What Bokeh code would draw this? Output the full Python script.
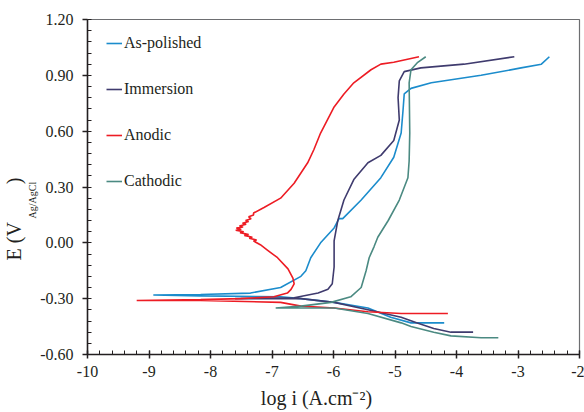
import numpy as np
from bokeh.plotting import figure
from bokeh.models import FixedTicker, Title
from bokeh.embed import file_html
from bokeh.resources import INLINE

# ---------------- data ----------------
x_ticks = [-10, -9, -8, -7, -6, -5, -4, -3, -2]
x_tick_labels = ["-10", "-9", "-8", "-7", "-6", "-5", "-4", "-3", "-2"]
y_ticks = [-0.6, -0.3, 0.0, 0.3, 0.6, 0.9, 1.2]
y_tick_labels = ["-0.60", "-0.30", "0.00", "0.30", "0.60", "0.90", "1.20"]

x_title = "log i (A.cm\u207b\u00b2)"
y_title_main = "E (V"
y_title_sub = "Ag/AgCl"
y_title_close = ")"

series_names = ["As-polished", "Immersion", "Anodic", "Cathodic"]
series_colors = ["#1b8ccc", "#3f3b6e", "#ed1c24", "#4b8a82"]

# As-polished: cathodic end -> Ecorr -> anodic end
aspol_logi = [-4.20, -4.50, -4.74, -5.07, -5.44, -5.99, -6.53, -6.86, -8.16, -8.93,
              -8.16, -7.35, -6.86, -6.53, -6.45, -6.37, -6.21, -5.99, -5.91, -5.85,
              -5.55, -5.23, -5.02, -4.90, -4.87, -4.85, -4.74, -4.41, -3.60, -2.95,
              -2.62, -2.49]
aspol_E = [-0.43, -0.43, -0.43, -0.40, -0.35, -0.32, -0.30, -0.29, -0.285, -0.28,
           -0.278, -0.27, -0.24, -0.18, -0.15, -0.08, 0.00, 0.08, 0.13, 0.13,
           0.23, 0.35, 0.46, 0.59, 0.71, 0.80, 0.83, 0.86, 0.90, 0.94,
           0.96, 1.00]

# Immersion
imm_logi = [-3.73, -4.09, -4.37, -4.65, -4.90, -5.44, -5.99, -6.53, -7.00, -7.60,
            -6.64, -6.25, -6.09, -6.02, -5.99, -5.99, -5.93, -5.83, -5.67, -5.44,
            -5.23, -5.02, -4.93, -4.95, -4.93, -4.85, -4.58, -3.88, -3.06]
imm_E = [-0.48, -0.48, -0.46, -0.43, -0.40, -0.36, -0.32, -0.30, -0.30, -0.30,
         -0.295, -0.27, -0.25, -0.22, -0.13, 0.01, 0.12, 0.23, 0.34, 0.43,
         0.47, 0.55, 0.66, 0.78, 0.87, 0.92, 0.94, 0.96, 1.00]

# Anodic (with the noisy region near 0 V)
anod_logi = [-4.14, -4.90, -5.44, -5.99, -6.53, -6.86, -8.16, -9.20,
             -8.16, -7.51, -6.97, -6.75, -6.69, -6.64, -6.66, -6.74, -6.91, -7.07,
             -7.19, -7.30, -7.25, -7.37, -7.32, -7.45, -7.38, -7.52, -7.46, -7.59,
             -7.50, -7.58, -7.47, -7.53, -7.42, -7.48, -7.38, -7.43, -7.34, -7.38,
             -7.30, -7.30, -7.13, -6.86, -6.64, -6.42, -6.32, -6.21, -5.99, -5.83,
             -5.67, -5.39, -5.23, -5.02, -4.61]
anod_E = [-0.38, -0.38, -0.37, -0.35, -0.34, -0.32, -0.31, -0.31,
          -0.305, -0.30, -0.29, -0.27, -0.25, -0.22, -0.19, -0.14, -0.08, -0.04,
          -0.01, 0.01, 0.015, 0.025, 0.03, 0.04, 0.045, 0.055, 0.06, 0.068,
          0.072, 0.08, 0.085, 0.09, 0.10, 0.105, 0.115, 0.12, 0.13, 0.14,
          0.15, 0.16, 0.19, 0.24, 0.32, 0.43, 0.50, 0.59, 0.73, 0.80,
          0.86, 0.93, 0.96, 0.97, 1.00]

# Cathodic
cath_logi = [-3.32, -3.60, -4.09, -4.37, -4.74, -4.90, -5.44, -5.99, -6.53, -6.94,
             -6.53, -6.04, -5.72, -5.55, -5.47, -5.42, -5.34, -5.28, -5.11, -4.93,
             -4.79, -4.77, -4.76, -4.77, -4.74, -4.63, -4.50]
cath_E = [-0.51, -0.51, -0.50, -0.48, -0.45, -0.43, -0.38, -0.35, -0.35, -0.35,
          -0.34, -0.32, -0.29, -0.24, -0.15, -0.08, -0.02, 0.03, 0.12, 0.23,
          0.35, 0.44, 0.59, 0.86, 0.93, 0.97, 1.00]

series_x = [aspol_logi, imm_logi, anod_logi, cath_logi]
series_y = [aspol_E, imm_E, anod_E, cath_E]

# ---------------- styling ----------------
FONT = "Liberation Serif"
TXT = "#231f20"

p = figure(width=584, height=412, x_range=(-10, -2), y_range=(-0.6, 1.2),
           output_backend="svg", toolbar_location=None,
           min_border_left=87, min_border_right=5, min_border_top=19,
           min_border_bottom=58)
p.title.visible = False
p.xgrid.visible = False
p.ygrid.visible = False
p.outline_line_color = "#6d6e71"
p.outline_line_width = 1.2
p.background_fill_color = "white"
p.border_fill_color = "white"

for nm, col, xs, ys in zip(series_names, series_colors, series_x, series_y):
    p.line(xs, ys, line_color=col, line_width=1.6, legend_label=nm)

p.xaxis.ticker = FixedTicker(ticks=x_ticks,
                             minor_ticks=list(np.round(np.arange(-10, -1.99, 0.2), 3)))
p.yaxis.ticker = FixedTicker(ticks=y_ticks,
                             minor_ticks=list(np.round(np.arange(-0.6, 1.2001, 0.06), 3)))
p.xaxis.major_label_overrides = {float(v): s for v, s in zip(x_ticks, x_tick_labels)}
p.yaxis.major_label_overrides = {float(v): s for v, s in zip(y_ticks, y_tick_labels)}

for ax in (p.xaxis[0], p.yaxis[0]):
    ax.axis_line_color = TXT
    ax.axis_line_width = 1.5
    ax.major_tick_line_color = TXT
    ax.major_tick_line_width = 1.5
    ax.minor_tick_line_color = TXT
    ax.minor_tick_line_width = 1
    ax.major_label_text_font = FONT
    ax.major_label_text_font_size = "16px"
    ax.major_label_text_color = TXT

p.xaxis.major_tick_in = 4
p.xaxis.major_tick_out = 4
p.xaxis.minor_tick_in = 4
p.xaxis.minor_tick_out = 0
p.xaxis.major_label_standoff = 7
p.yaxis.major_tick_in = 0
p.yaxis.major_tick_out = 5
p.yaxis.minor_tick_in = 4
p.yaxis.minor_tick_out = 0
p.yaxis.major_label_standoff = 9

# x axis title (trailing spaces shift its centre slightly left, as in the original)
p.xaxis.axis_label = x_title + "\u2003\u2002\u2009"
p.xaxis.axis_label_text_font = FONT
p.xaxis.axis_label_text_font_size = "20px"
p.xaxis.axis_label_text_font_style = "normal"
p.xaxis.axis_label_text_color = TXT
p.xaxis.axis_label_standoff = 7

# y axis title with subscript: two titles in the left side panels
t_sub = Title(text=y_title_sub, align="left", offset=136, standoff=0,
              text_font=FONT, text_font_size="10px", text_font_style="normal",
              text_color=TXT)
t_main = Title(text=y_title_main + "\u2003\u2002\u2009\u2009" + y_title_close,
               align="left", offset=94, standoff=0,
               text_font=FONT, text_font_size="20px", text_font_style="normal",
               text_color=TXT)
p.add_layout(t_sub, "left")
p.add_layout(t_main, "left")

# legend
lg = p.legend[0]
lg.location = (19, 163)
lg.margin = 0
lg.padding = 0
lg.spacing = 26
lg.glyph_width = 16
lg.glyph_height = 20
lg.label_height = 20
lg.label_standoff = 2
lg.label_text_font = FONT
lg.label_text_font_size = "16px"
lg.label_text_color = TXT
lg.border_line_alpha = 0
lg.background_fill_alpha = 0

open("out.html", "w").write(file_html(p, INLINE))
